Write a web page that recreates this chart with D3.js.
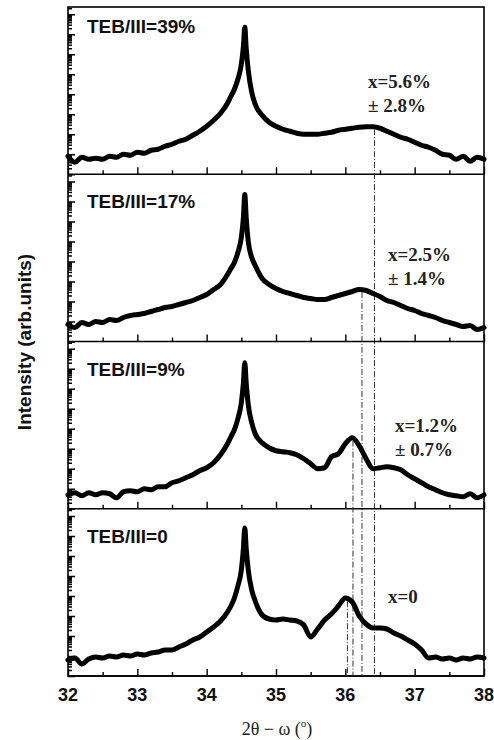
<!DOCTYPE html>
<html>
<head>
<meta charset="utf-8">
<script src="https://cdn.jsdelivr.net/npm/d3@7"></script>
<style>
  body { margin: 0; background: #fff; }
  .sans { font-family: "Liberation Sans", Arial, sans-serif; font-weight: bold; }
  .serif { font-family: "Liberation Serif", "Times New Roman", serif; }
</style>
</head>
<body>
<svg id="chart" width="494" height="740"></svg>
<script>
// 2theta grid (degrees), denser round the main peak
const theta = [32.0, 32.1, 32.2, 32.3, 32.4, 32.5, 32.6, 32.7, 32.8, 32.9,
  33.0, 33.1, 33.2, 33.3, 33.4, 33.5, 33.6, 33.7, 33.8, 33.9,
  34.0, 34.1, 34.2, 34.3, 34.35, 34.4, 34.45, 34.5, 34.53, 34.55, 34.57, 34.6, 34.65,
  34.7, 34.8, 34.9, 35.0, 35.1, 35.2, 35.3, 35.4, 35.5, 35.6, 35.7, 35.8, 35.9,
  36.0, 36.1, 36.2, 36.3, 36.4, 36.5, 36.6, 36.7, 36.8, 36.9,
  37.0, 37.1, 37.2, 37.3, 37.4, 37.5, 37.6, 37.7, 37.8, 37.9, 38.0];

// log10 intensity (arb. units)
const teb39 = [0.9, 0.6, 0.85, 0.75, 0.8, 0.75, 0.9, 0.85, 1.0, 0.95,
  1.1, 1.05, 1.2, 1.25, 1.4, 1.5, 1.65, 1.75, 1.95, 2.15,
  2.4, 2.7, 3.05, 3.55, 3.9, 4.25, 4.75, 5.5, 6.4, 7.35, 6.3, 5.2, 4.1,
  3.5, 2.95, 2.6, 2.4, 2.25, 2.15, 2.05, 2.0, 2.0, 2.0, 2.05, 2.1, 2.2,
  2.25, 2.3, 2.35, 2.37, 2.37, 2.3, 2.15, 2.0, 1.85, 1.75,
  1.6, 1.45, 1.35, 1.2, 1.0, 0.95, 0.75, 0.9, 0.65, 0.85, 0.75];

const teb17 = [0.85, 0.7, 0.95, 0.85, 1.0, 0.95, 1.1, 1.05, 1.2, 1.3,
  1.35, 1.4, 1.5, 1.6, 1.7, 1.75, 1.85, 1.95, 2.05, 2.2,
  2.35, 2.6, 2.85, 3.35, 3.65, 3.95, 4.45, 5.2, 6.2, 7.35, 6.2, 5.0, 4.2,
  3.8, 3.15, 2.85, 2.65, 2.5, 2.4, 2.3, 2.2, 2.15, 2.1, 2.1, 2.2, 2.3,
  2.4, 2.5, 2.6, 2.55, 2.4, 2.25, 2.05, 1.95, 1.8, 1.65,
  1.55, 1.4, 1.3, 1.2, 1.05, 0.95, 0.85, 0.75, 0.8, 0.6, 0.7];

const teb9 = [0.7, 0.8, 0.65, 0.8, 0.7, 0.8, 0.75, 0.55, 0.85, 0.9,
  0.85, 1.0, 0.95, 1.1, 1.1, 1.3, 1.4, 1.55, 1.7, 1.9,
  2.05, 2.3, 2.7, 3.25, 3.6, 3.95, 4.5, 5.3, 6.3, 7.3, 6.3, 5.2, 4.3,
  3.75, 3.3, 3.05, 2.9, 2.85, 2.8, 2.7, 2.5, 2.25, 2.0, 2.05, 2.6, 2.75,
  3.25, 3.55, 3.15, 2.5, 2.0, 2.05, 2.1, 2.05, 1.95, 1.7,
  1.5, 1.3, 1.1, 0.95, 0.8, 0.7, 0.65, 0.6, 0.75, 0.55, 0.7];

const teb0 = [0.8, 0.9, 0.6, 0.85, 0.95, 0.9, 1.0, 0.95, 1.05, 1.0,
  1.1, 1.05, 1.15, 1.2, 1.3, 1.3, 1.45, 1.6, 1.8, 1.95,
  2.2, 2.45, 2.75, 3.2, 3.5, 3.9, 4.5, 5.3, 6.4, 7.4, 6.4, 5.3, 4.3,
  3.75, 3.05, 2.85, 2.8, 2.85, 2.8, 2.75, 2.55, 1.95, 2.35, 2.8, 3.1, 3.5,
  3.9, 3.7, 3.0, 2.6, 2.4, 2.4, 2.35, 2.15, 2.0, 1.8,
  1.6, 1.3, 0.9, 0.95, 0.85, 0.9, 0.8, 0.9, 0.85, 0.95, 0.9];

const series = [teb39, teb17, teb9, teb0];
const panelLabels = ["TEB/III=39%", "TEB/III=17%", "TEB/III=9%", "TEB/III=0"];
const compText = ["x=5.6%", "x=2.5%", "x=1.2%", "x=0"];
const errText = ["\u00b1 2.8%", "\u00b1 1.4%", "\u00b1 0.7%", ""];
const peakPos = [36.42, 36.24, 36.11, 36.03];
const xTicks = [32, 33, 34, 35, 36, 37, 38];

const left = 68, right = 484, top0 = 7, ph = 167.25, decade = 20;
const bottom = top0 + 4 * ph;

const svg = d3.select("#chart");
const x = d3.scaleLinear().domain([32, 38]).range([left, right]);

// linear interpolation of a series at a given 2theta
function valueAt(vals, t) {
  const j = Math.max(0, Math.min(theta.length - 2, d3.bisectRight(theta, t) - 1));
  const f = (t - theta[j]) / (theta[j + 1] - theta[j]);
  return vals[j] + f * (vals[j + 1] - vals[j]);
}

// label positions per panel (x of text start, baseline offset from panel top)
const compPos = [[368, 81], [388, 87], [395, 90], [388, 94]];

series.forEach((vals, i) => {
  const y0 = top0 + i * ph;
  const y = d3.scaleLog().domain([1, Math.pow(10, ph / decade)]).range([y0 + ph, y0]);
  const g = svg.append("g");

  // log ticks on the left, pointing inward
  const tv = [];
  for (let k = 0; k < 9; k++) for (let m = 1; m < 10; m++) {
    const v = m * Math.pow(10, k);
    if (v < Math.pow(10, ph / decade)) tv.push(v);
  }
  const ya = g.append("g").attr("transform", `translate(${left},0)`)
    .call(d3.axisRight(y).tickValues(tv).tickSize(4).tickFormat(""));
  ya.select(".domain").remove();
  ya.selectAll(".tick line")
    .attr("stroke", "#000").attr("stroke-width", 1.5)
    .attr("x2", d => Math.abs(Math.log10(d) - Math.round(Math.log10(d))) < 1e-9 ? 7 : 4);

  // x ticks at panel bottom, pointing up
  const xa = g.append("g").attr("transform", `translate(0,${y0 + ph})`)
    .call(d3.axisTop(x).tickValues(d3.range(32, 38.01, 0.5)).tickSize(4).tickFormat(""));
  xa.select(".domain").remove();
  xa.selectAll(".tick line")
    .attr("stroke", "#000").attr("stroke-width", 1.4)
    .attr("y2", d => Number.isInteger(d) ? -7 : -4);

  // separator / bottom line
  g.append("line").attr("x1", left).attr("x2", right)
    .attr("y1", y0 + ph).attr("y2", y0 + ph)
    .attr("stroke", "#000").attr("stroke-width", 1.6);

  // the scan
  const line = d3.line()
    .x((d, j) => x(theta[j]))
    .y(d => y(Math.pow(10, d)))
    .curve(d3.curveMonotoneX);
  g.append("path").datum(vals).attr("d", line)
    .attr("fill", "none").attr("stroke", "#000")
    .attr("stroke-width", 5).attr("stroke-linejoin", "round").attr("stroke-linecap", "round");

  // peak marker down to the bottom axis
  const tp = peakPos[i];
  g.append("line")
    .attr("x1", x(tp)).attr("x2", x(tp))
    .attr("y1", y(Math.pow(10, valueAt(vals, tp))) + 2).attr("y2", bottom)
    .attr("stroke", "#333").attr("stroke-width", 1)
    .attr("stroke-dasharray", "6,2,1,2");

  // panel label
  g.append("text").attr("class", "sans")
    .attr("x", 87).attr("y", y0 + (i === 0 ? 26 : 34))
    .attr("font-size", 19).attr("fill", "#111")
    .text(panelLabels[i]);

  // composition
  const [cx, cy] = compPos[i];
  g.append("text").attr("class", "serif")
    .attr("x", cx).attr("y", y0 + cy)
    .attr("font-size", 19).attr("font-weight", "bold").attr("fill", "#222")
    .text(compText[i]);
  if (errText[i]) {
    g.append("text").attr("class", "serif")
      .attr("x", cx).attr("y", y0 + cy + 24)
      .attr("font-size", 19).attr("font-weight", "bold").attr("fill", "#222")
      .text(errText[i]);
  }
});

// outer frame
svg.append("rect")
  .attr("x", left).attr("y", top0).attr("width", right - left).attr("height", 4 * ph)
  .attr("fill", "none").attr("stroke", "#000").attr("stroke-width", 1.6);

// x tick labels
svg.append("g").selectAll("text").data(xTicks).join("text")
  .attr("class", "sans")
  .attr("x", d => x(d)).attr("y", 701)
  .attr("text-anchor", "middle").attr("font-size", 18).attr("fill", "#111")
  .text(d => d);

// axis titles
const xt = svg.append("text").attr("class", "serif")
  .attr("x", 277).attr("y", 735).attr("text-anchor", "middle")
  .attr("font-size", 18).attr("fill", "#222");
xt.append("tspan").text("2\u03b8 \u2212 \u03c9 (");
xt.append("tspan").attr("font-size", 11).attr("dy", -8).text("o");
xt.append("tspan").attr("dy", 8).text(")");

svg.append("text").attr("class", "sans")
  .attr("transform", "translate(31,342) rotate(-90)")
  .attr("text-anchor", "middle").attr("font-size", 19).attr("fill", "#111")
  .text("Intensity (arb.units)");
</script>
</body>
</html>
